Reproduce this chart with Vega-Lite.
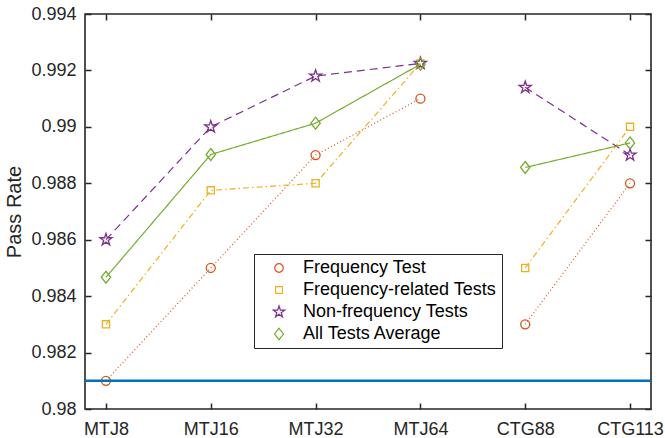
{
  "$schema": "https://vega.github.io/schema/vega-lite/v6.json",
  "width": 566,
  "height": 395,
  "autosize": "none",
  "padding": {"left": 85, "top": 14, "right": 14, "bottom": 29},
  "background": "white",
  "config": {
    "font": "Liberation Sans",
    "view": {"stroke": "#262626", "strokeWidth": 1.6}
  },
  "data": {
    "values": [
      {"series": "Frequency Test", "model": "MTJ8", "seg": "MTJ", "rate": 0.981},
      {"series": "Frequency Test", "model": "MTJ16", "seg": "MTJ", "rate": 0.985},
      {"series": "Frequency Test", "model": "MTJ32", "seg": "MTJ", "rate": 0.989},
      {"series": "Frequency Test", "model": "MTJ64", "seg": "MTJ", "rate": 0.991},
      {"series": "Frequency Test", "model": "CTG88", "seg": "CTG", "rate": 0.983},
      {"series": "Frequency Test", "model": "CTG113", "seg": "CTG", "rate": 0.988},
      {"series": "Frequency-related Tests", "model": "MTJ8", "seg": "MTJ", "rate": 0.983},
      {"series": "Frequency-related Tests", "model": "MTJ16", "seg": "MTJ", "rate": 0.98775},
      {"series": "Frequency-related Tests", "model": "MTJ32", "seg": "MTJ", "rate": 0.988},
      {"series": "Frequency-related Tests", "model": "MTJ64", "seg": "MTJ", "rate": 0.99225},
      {"series": "Frequency-related Tests", "model": "CTG88", "seg": "CTG", "rate": 0.985},
      {"series": "Frequency-related Tests", "model": "CTG113", "seg": "CTG", "rate": 0.99},
      {"series": "Non-frequency Tests", "model": "MTJ8", "seg": "MTJ", "rate": 0.986},
      {"series": "Non-frequency Tests", "model": "MTJ16", "seg": "MTJ", "rate": 0.99},
      {"series": "Non-frequency Tests", "model": "MTJ32", "seg": "MTJ", "rate": 0.9918},
      {"series": "Non-frequency Tests", "model": "MTJ64", "seg": "MTJ", "rate": 0.99225},
      {"series": "Non-frequency Tests", "model": "CTG88", "seg": "CTG", "rate": 0.9914},
      {"series": "Non-frequency Tests", "model": "CTG113", "seg": "CTG", "rate": 0.989},
      {"series": "All Tests Average", "model": "MTJ8", "seg": "MTJ", "rate": 0.98467},
      {"series": "All Tests Average", "model": "MTJ16", "seg": "MTJ", "rate": 0.98902},
      {"series": "All Tests Average", "model": "MTJ32", "seg": "MTJ", "rate": 0.99013},
      {"series": "All Tests Average", "model": "MTJ64", "seg": "MTJ", "rate": 0.99222},
      {"series": "All Tests Average", "model": "CTG88", "seg": "CTG", "rate": 0.98856},
      {"series": "All Tests Average", "model": "CTG113", "seg": "CTG", "rate": 0.98943}
    ]
  },
  "layer": [
    {
      "mark": {"type": "point", "filled": false, "strokeWidth": 1.3, "size": 144, "opacity": 1},
      "encoding": {
        "x": {
          "field": "model",
          "type": "ordinal",
          "scale": {"type": "point", "domain": ["MTJ8", "MTJ16", "MTJ32", "MTJ64", "CTG88", "CTG113"], "padding": 0.2},
          "axis": {
            "orient": "top", "title": null, "labels": false,
            "domain": false, "grid": false, "ticks": true, "zindex": 1,
            "offset": -6, "tickSize": 6, "tickWidth": 1.5, "tickColor": "#262626"
          }
        },
        "y": {
          "field": "rate",
          "type": "quantitative",
          "scale": {"domain": [0.98, 0.994], "nice": false, "zero": false},
          "axis": {
            "orient": "right", "title": null, "labels": false,
            "values": [0.98, 0.982, 0.984, 0.986, 0.988, 0.99, 0.992, 0.994],
            "domain": false, "grid": false, "ticks": true, "zindex": 1,
            "offset": -6, "tickSize": 6, "tickWidth": 1.5, "tickColor": "#262626"
          }
        },
        "color": {
          "field": "series",
          "type": "nominal",
          "scale": {
            "domain": ["Frequency Test", "Frequency-related Tests", "Non-frequency Tests", "All Tests Average"],
            "range": ["#D95319", "#EDB120", "#7E2F8E", "#77AC30"]
          },
          "legend": {
            "orient": "none",
            "legendX": 169,
            "legendY": 240,
            "title": null,
            "symbolSize": 130,
            "symbolStrokeWidth": 1.2,
            "symbolOffset": 11,
            "labelOffset": 15,
            "labelFont": "Liberation Sans",
            "labelFontSize": 18,
            "labelColor": "#000000",
            "labelLimit": 400,
            "padding": 5,
            "rowPadding": 4,
            "strokeColor": "#262626",
            "fillColor": "#ffffff",
            "cornerRadius": 0
          }
        },
        "shape": {
          "field": "series",
          "type": "nominal",
          "scale": {
            "domain": ["Frequency Test", "Frequency-related Tests", "Non-frequency Tests", "All Tests Average"],
            "range": [
              "M0.75,0A0.75,0.75 0 1,1 -0.75,0A0.75,0.75 0 1,1 0.75,0Z",
              "M-0.6,-0.6H0.6V0.6H-0.6Z",
              "M0,-1.05L0.236,-0.324L0.999,-0.324L0.381,0.124L0.617,0.849L0,0.401L-0.617,0.849L-0.381,0.124L-0.999,-0.324L-0.236,-0.324Z",
              "M0,-1L0.78,0L0,1L-0.78,0Z"
            ]
          },
          "legend": null
        }
      }
    },
    {
      "mark": {"type": "line", "strokeWidth": 1.2},
      "encoding": {
        "x": {
          "field": "model",
          "type": "ordinal",
          "axis": {
            "orient": "bottom", "title": null, "labelAngle": 0,
            "domain": false, "grid": false, "ticks": true, "zindex": 1,
            "offset": -6, "tickSize": 6, "tickWidth": 1.5, "tickColor": "#262626",
            "labelPadding": 11, "labelFont": "Liberation Sans", "labelFontSize": 18, "labelColor": "#262626"
          }
        },
        "y": {
          "field": "rate",
          "type": "quantitative",
          "axis": {
            "orient": "left",
            "title": "Pass Rate",
            "values": [0.98, 0.982, 0.984, 0.986, 0.988, 0.99, 0.992, 0.994],
            "format": "~g",
            "domain": false, "grid": false, "ticks": true, "zindex": 1,
            "offset": -6, "tickSize": 6, "tickWidth": 1.5, "tickColor": "#262626",
            "labelPadding": 9, "labelFont": "Liberation Sans", "labelFontSize": 18, "labelColor": "#262626",
            "titlePadding": 6, "titleFont": "Liberation Sans", "titleFontSize": 20, "titleFontWeight": "normal", "titleColor": "#262626"
          }
        },
        "color": {"field": "series", "type": "nominal"},
        "strokeDash": {
          "field": "series",
          "type": "nominal",
          "scale": {
            "domain": ["All Tests Average", "Non-frequency Tests", "Frequency-related Tests", "Frequency Test"],
            "range": [[1, 0], [8, 5], [6, 3, 1.5, 3], [1, 2.5]]
          },
          "legend": null
        },
        "detail": {"field": "seg"},
        "order": {"value": null}
      }
    },
    {
      "data": {"values": [{"threshold": 0.981}]},
      "mark": {"type": "rule", "color": "#0072BD", "strokeWidth": 2.6},
      "encoding": {
        "y": {"field": "threshold", "type": "quantitative", "axis": null}
      }
    }
  ],
  "resolve": {"axis": {"x": "independent", "y": "independent"}}
}
